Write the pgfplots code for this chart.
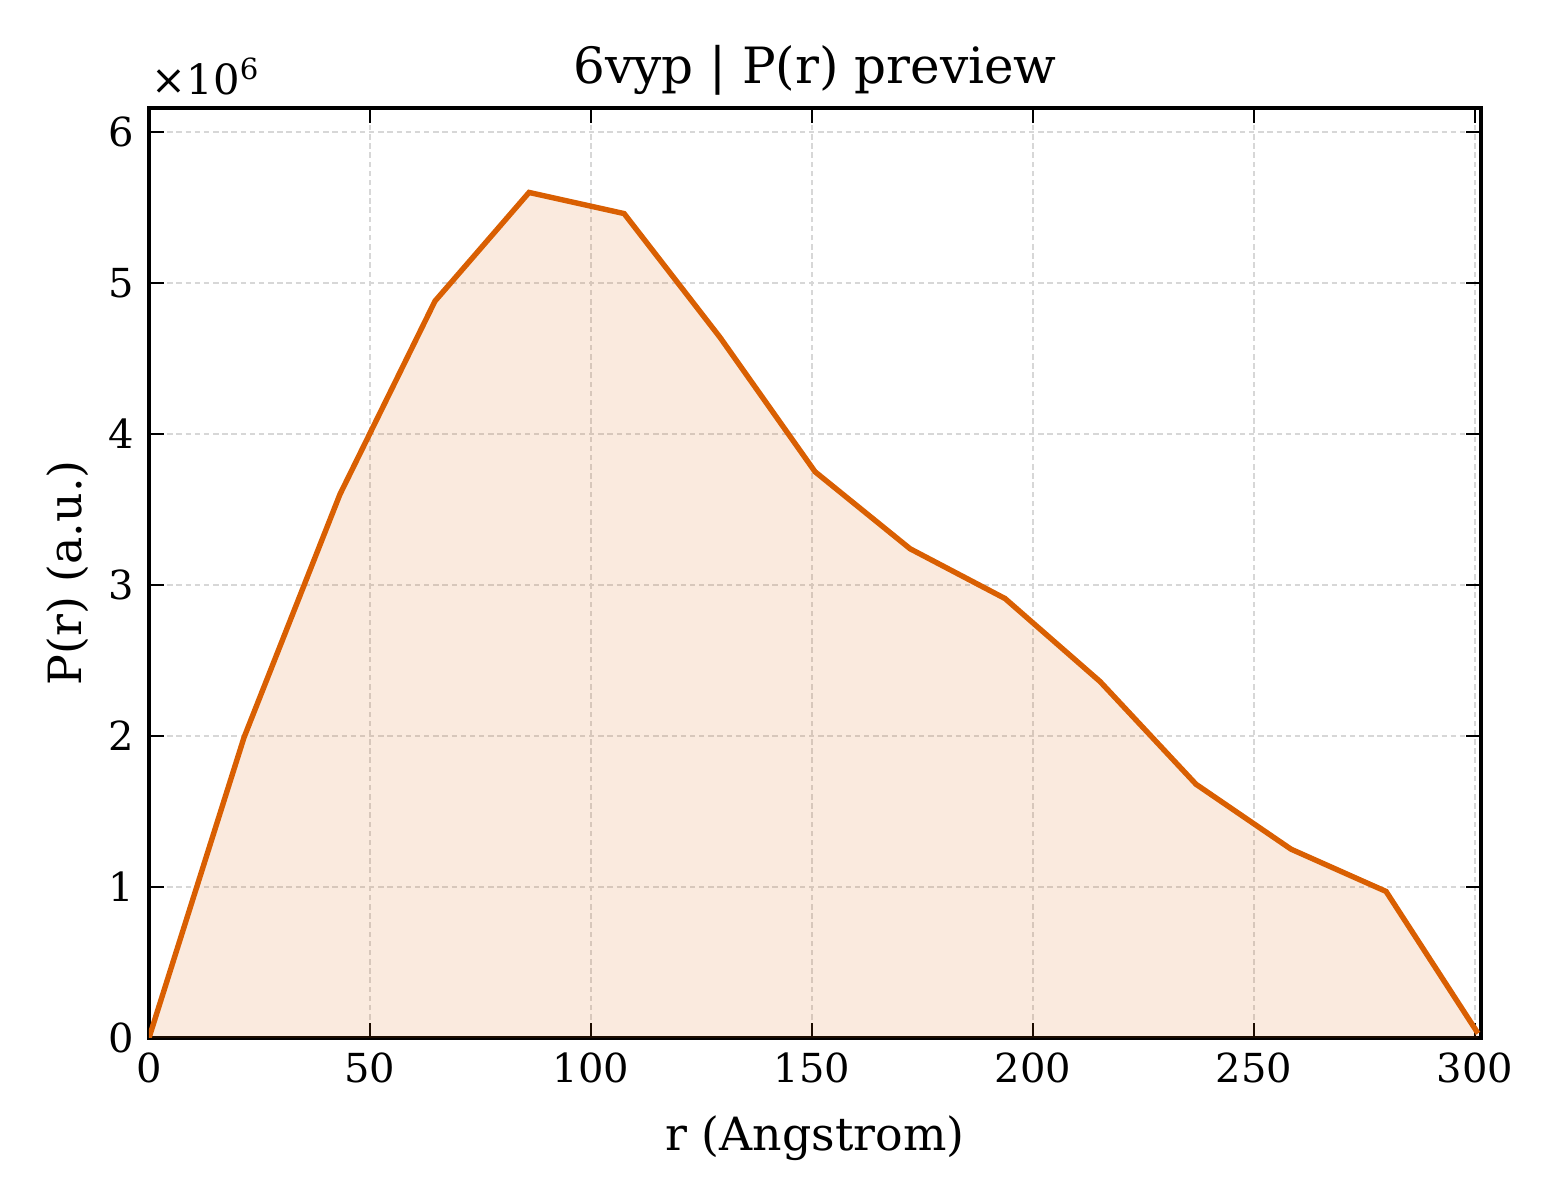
\documentclass[border=0pt]{standalone}
\usepackage{fontspec}
\setmainfont{DejaVu Serif}
\usepackage{pgfplots}
\pgfplotsset{compat=1.18}
\definecolor{prline}{RGB}{217,95,2}
\definecolor{gridc}{RGB}{215,215,215}
\begin{document}
\begin{tikzpicture}
\begin{axis}[
  name=main,
  at={(0,0)}, anchor=south west,
  scale only axis,
  width=319.7pt, height=223.2pt,
  xmin=0, xmax=301.4,
  ymin=0, ymax=6.16e6,
  xtick={0,50,...,300},
  ytick={0,1e6,2e6,3e6,4e6,5e6,6e6},
  yticklabels={0,1,2,3,4,5,6},
  scaled y ticks=false,
  tick align=inside,
  xtick pos=both, ytick pos=both,
  major tick length=3.6pt,
  tick style={black, line width=0.6pt},
  axis line style={black, line width=0.8pt},
  grid=major,
  major grid style={gridc, dash pattern=on 1.3pt off 0.9pt, line width=0.45pt},
  tick label style={font=\fontsize{9.6}{11}\selectfont},
  /pgf/number format/assume math mode=true,
  label style={font=\fontsize{11}{13}\selectfont},
  title style={font=\fontsize{12}{14}\selectfont, yshift=-6.5pt},
  title={6vyp | P(r) preview},
  xlabel={r (Angstrom)},
  ylabel={P(r) (a.u.)},
  xlabel style={yshift=-1pt},
  ylabel style={yshift=-2pt},
  clip=true,
]
\addplot[draw=none, fill=prline, fill opacity=0.13] coordinates {
(0,0) (21.5,1.99e6) (43.2,3.60e6) (64.7,4.88e6) (86.0,5.60e6) (107.5,5.46e6)
(129.2,4.64e6) (150.7,3.75e6) (172.2,3.24e6) (193.7,2.91e6) (215.2,2.36e6)
(236.9,1.68e6) (258.4,1.25e6) (279.9,0.97e6) (300.7,0.03e6)
} \closedcycle;
\addplot[prline, line width=1.3pt, mark=none] coordinates {
(0,0) (21.5,1.99e6) (43.2,3.60e6) (64.7,4.88e6) (86.0,5.60e6) (107.5,5.46e6)
(129.2,4.64e6) (150.7,3.75e6) (172.2,3.24e6) (193.7,2.91e6) (215.2,2.36e6)
(236.9,1.68e6) (258.4,1.25e6) (279.9,0.97e6) (300.7,0.03e6)
};
\end{axis}
\node[anchor=base west, inner sep=0pt, font=\fontsize{10}{12}\selectfont]
  at ([xshift=0.5pt, yshift=3.2pt]main.north west) {×10\textsuperscript{6}};
\useasboundingbox (-35.76pt,-38.88pt) rectangle (338.64pt,249.1pt);
\end{tikzpicture}
\end{document}
